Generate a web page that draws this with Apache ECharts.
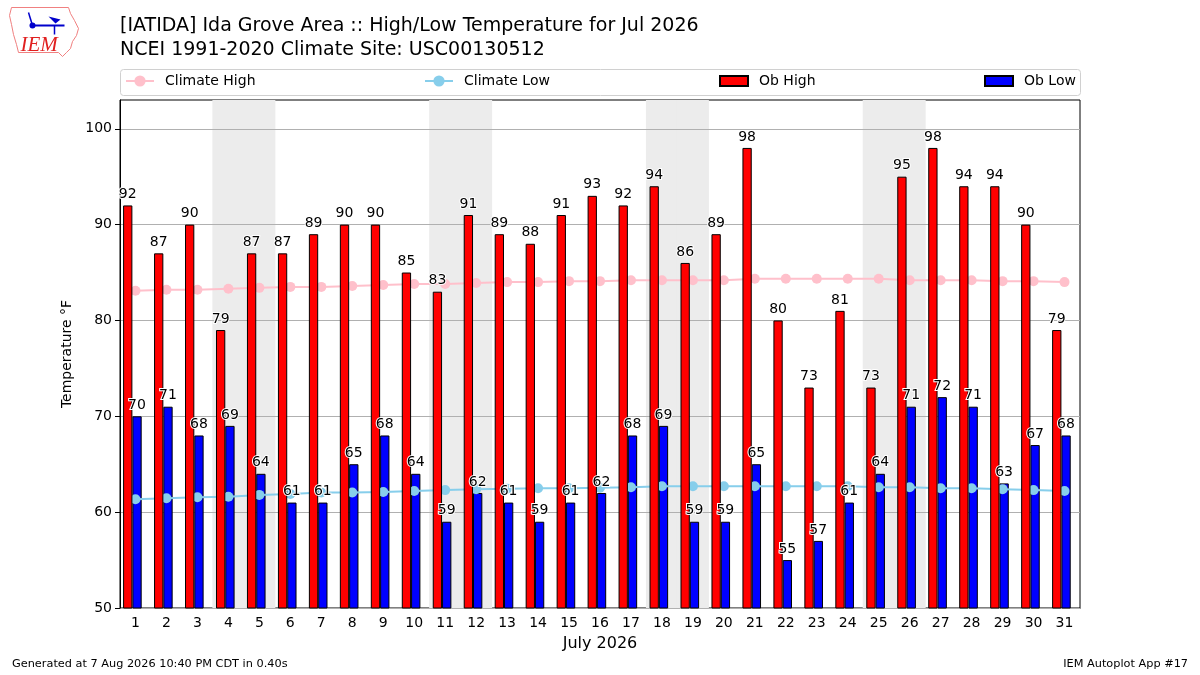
<!DOCTYPE html>
<html>
<head>
<meta charset="utf-8">
<script src="https://cdn.jsdelivr.net/npm/echarts@6/dist/echarts.min.js"></script>
<style>
  html, body { margin: 0; padding: 0; background: #fff; }
  #main { width: 1200px; height: 675px; }
</style>
</head>
<body>
<div id="main"></div>
<script>
var days = [];
for (var d = 1; d <= 31; d++) days.push(String(d));

var obHigh = [92, 87, 90, 79, 87, 87, 89, 90, 90, 85, 83, 91, 89, 88, 91, 93,
              92, 94, 86, 89, 98, 80, 73, 81, 73, 95, 98, 94, 94, 90, 79];
var obLow = [70, 71, 68, 69, 64, 61, 61, 65, 68, 64, 59, 62, 61, 59, 61, 62,
             68, 69, 59, 59, 65, 55, 57, 61, 64, 71, 72, 71, 63, 67, 68];
var climHigh = [83.1, 83.2, 83.2, 83.3, 83.4, 83.5, 83.5, 83.6, 83.7, 83.8, 83.8,
                83.9, 84.0, 84.0, 84.1, 84.1, 84.2, 84.2, 84.2, 84.2, 84.35, 84.35,
                84.35, 84.35, 84.35, 84.2, 84.2, 84.2, 84.1, 84.1, 84.0];
var climLow = [61.35, 61.45, 61.55, 61.6, 61.8, 61.9, 62.05, 62.05, 62.1, 62.2, 62.3,
               62.4, 62.45, 62.5, 62.5, 62.55, 62.6, 62.7, 62.7, 62.7, 62.7, 62.7,
               62.7, 62.7, 62.6, 62.6, 62.5, 62.5, 62.4, 62.3, 62.2];
var weekendDays = ['4', '5', '11', '12', '18', '19', '25', '26'];
var yTicks = [50, 60, 70, 80, 90, 100];
var yMin = 50, yMax = 103;

var font = 'DejaVu Sans';

var chart = echarts.init(document.getElementById('main'));

var labelStyle = {
    show: true,
    position: 'top',
    distance: 4,
    fontSize: 14,
    fontFamily: font,
    color: '#000',
    opacity: 1,
    textBorderColor: '#fff',
    textBorderWidth: 2
};

var legendBase = function (name, left, h, icon) {
    var l = {
        data: [name],
        left: left,
        top: 74,
        padding: 0,
        itemWidth: 28,
        itemHeight: h,
        textStyle: {fontSize: 14, fontFamily: font, color: '#000', padding: [0, 0, 0, 6]}
    };
    if (icon) l.icon = icon;
    return l;
};

var option = {
    animation: false,
    backgroundColor: '#fff',
    title: {
        text: '[IATIDA] Ida Grove Area :: High/Low Temperature for Jul 2026\nNCEI 1991-2020 Climate Site: USC00130512',
        left: 120,
        top: 14,
        padding: 0,
        textStyle: {fontSize: 19, fontWeight: 'normal', color: '#000', fontFamily: font, lineHeight: 24}
    },
    legend: [
        legendBase('Climate High', 125, 14),
        legendBase('Climate Low', 424, 14),
        legendBase('Ob High', 719, 10, 'rect'),
        legendBase('Ob Low', 984, 10, 'rect')
    ],
    grid: {
        left: 120, right: 120, top: 100, bottom: 67,
        show: true, borderColor: '#000', borderWidth: 1, backgroundColor: 'transparent'
    },
    xAxis: [
        {
            type: 'category',
            data: days,
            name: 'July 2026',
            nameLocation: 'middle',
            nameGap: 28,
            nameTextStyle: {fontSize: 16, fontFamily: font, color: '#000'},
            axisLine: {lineStyle: {color: '#000', width: 1}},
            axisTick: {alignWithLabel: true, length: 5, lineStyle: {color: '#000'}},
            axisLabel: {fontSize: 14, fontFamily: font, color: '#000', margin: 8}
        },
        {
            // hidden copy used only for the weekend shading
            type: 'category',
            data: days,
            show: false
        }
    ],
    yAxis: {
        type: 'value',
        min: yMin,
        max: yMax,
        interval: 10,
        z: 1,
        name: 'Temperature °F',
        nameLocation: 'middle',
        nameGap: 41,
        nameTextStyle: {fontSize: 14, fontFamily: font, color: '#000'},
        axisLine: {show: true, lineStyle: {color: '#000', width: 1}},
        axisTick: {show: true, length: 5, lineStyle: {color: '#000'}, customValues: yTicks},
        axisLabel: {fontSize: 14, fontFamily: font, color: '#000', margin: 8, customValues: yTicks},
        splitLine: {show: true, lineStyle: {color: '#b0b0b0', width: 1}}
    },
    graphic: [
        {
            type: 'group', left: 9, top: 7,
            children: [
                {
                    type: 'polygon',
                    shape: {points: [[3, 1], [60, 1], [62, 7], [66, 14], [70, 22], [68, 29], [64, 35],
                                     [62, 42], [58, 46], [54, 50], [50, 46], [10, 46], [8, 38], [5, 28], [3, 18], [1, 9]]},
                    style: {fill: '#fff', stroke: '#f08080', lineWidth: 1}
                },
                {type: 'line', shape: {x1: 24, y1: 19, x2: 56, y2: 19}, style: {stroke: '#0000cc', lineWidth: 2}},
                {type: 'circle', shape: {cx: 24, cy: 19, r: 3}, style: {fill: '#0000cc'}},
                {type: 'line', shape: {x1: 24, y1: 19, x2: 20, y2: 6}, style: {stroke: '#0000cc', lineWidth: 1.5}},
                {type: 'line', shape: {x1: 46, y1: 19, x2: 46, y2: 28}, style: {stroke: '#0000cc', lineWidth: 1.5}},
                {type: 'polygon', shape: {points: [[40, 10], [52, 13], [47, 17]]}, style: {fill: '#0000cc'}},
                {
                    type: 'text', left: 12, top: 28,
                    style: {text: 'IEM', fontSize: 21, fontStyle: 'italic', fontFamily: 'Liberation Serif',
                            fill: '#e02020'}
                }
            ]
        },
        {
            type: 'rect', left: 120, top: 69,
            shape: {width: 960, height: 26, r: 3},
            style: {fill: '#fff', stroke: '#d0d0d0', lineWidth: 1},
            z: -1
        },
        {
            type: 'text', left: 12, top: 659,
            style: {text: 'Generated at 7 Aug 2026 10:40 PM CDT in 0.40s', fontSize: 11.3, fontFamily: font, fill: '#000'}
        },
        {
            type: 'text', right: 12, top: 659,
            style: {text: 'IEM Autoplot App #17', fontSize: 11.3, fontFamily: font, fill: '#000'}
        }
    ],
    series: [
        {
            name: 'weekend',
            type: 'bar',
            xAxisIndex: 1,
            z: 0,
            silent: true,
            barWidth: 32,
            data: days.map(function (d) { return weekendDays.indexOf(d) >= 0 ? yMax : null; }),
            itemStyle: {color: '#ececec'}
        },
        {
            name: 'Ob High',
            type: 'bar',
            z: 4,
            barWidth: 9.3,
            data: obHigh,
            itemStyle: {color: '#ff0000', borderColor: '#000', borderWidth: 1},
            label: labelStyle
        },
        {
            name: 'Ob Low',
            type: 'bar',
            z: 2,
            barWidth: 9.3,
            data: obLow,
            itemStyle: {color: '#0000ff', borderColor: '#000', borderWidth: 1}
        },
        {
            name: 'spacer',
            type: 'bar',
            z: 0,
            barWidth: 6.2,
            barGap: '0%',
            data: days.map(function () { return null; })
        },
        {
            name: 'Climate High',
            type: 'line',
            z: 3,
            data: climHigh,
            symbol: 'circle',
            symbolSize: 10,
            lineStyle: {color: '#ffc0cb', width: 2},
            itemStyle: {color: '#ffc0cb'}
        },
        {
            name: 'Climate Low',
            type: 'line',
            z: 3,
            data: climLow,
            symbol: 'circle',
            symbolSize: 10,
            lineStyle: {color: '#87ceeb', width: 2},
            itemStyle: {color: '#87ceeb'}
        },
        {
            name: 'lowLabels',
            type: 'scatter',
            z: 6,
            symbolSize: 0,
            silent: true,
            data: obLow,
            itemStyle: {opacity: 1},
            label: Object.assign({}, labelStyle, {offset: [1.5, 0]})
        }
    ]
};

chart.setOption(option);
</script>
</body>
</html>
